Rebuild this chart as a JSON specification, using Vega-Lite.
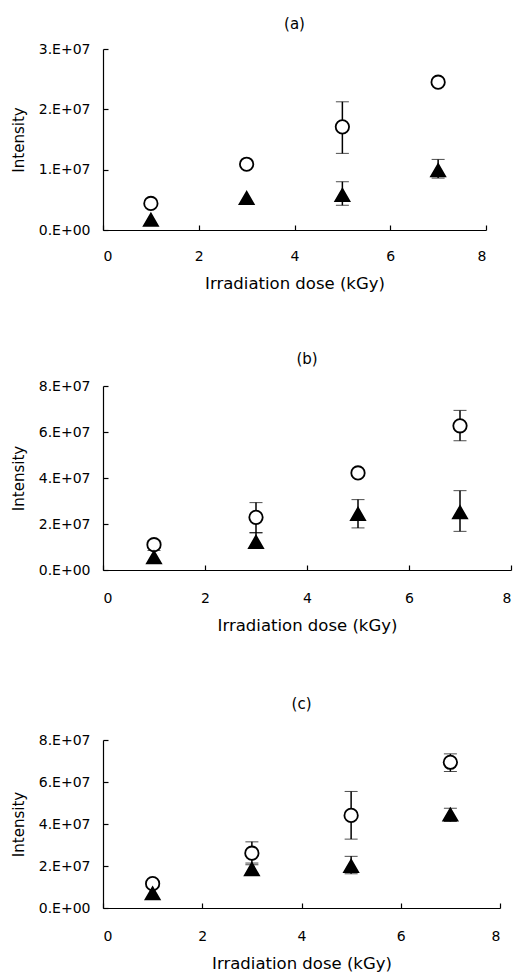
{
  "$schema": "https://vega.github.io/schema/vega-lite/v6.json",
  "padding": {"top": 17, "left": 11, "right": 5, "bottom": 5},
  "background": "white",
  "config": {
    "view": {"stroke": null},
    "font": "DejaVu Sans",
    "axis": {
      "grid": false,
      "domainColor": "black",
      "domainWidth": 1.2,
      "tickColor": "black",
      "tickWidth": 1.2,
      "tickSize": -5,
      "labelColor": "black",
      "labelFont": "DejaVu Sans",
      "labelFontSize": 14,
      "titleColor": "black",
      "titleFont": "DejaVu Sans",
      "titleFontWeight": "normal"
    },
    "title": {"font": "DejaVu Sans", "fontSize": 15, "fontWeight": "normal", "color": "black", "anchor": "middle"}
  },
  "data": {
    "values": [
      {"panel": "a", "series": "open", "dose": 1, "value": 4400000},
      {"panel": "a", "series": "open", "dose": 3, "value": 10900000},
      {"panel": "a", "series": "open", "dose": 5, "value": 17100000, "lo": 12700000, "hi": 21250000},
      {"panel": "a", "series": "open", "dose": 7, "value": 24500000},
      {"panel": "a", "series": "filled", "dose": 1, "value": 1700000},
      {"panel": "a", "series": "filled", "dose": 3, "value": 5300000},
      {"panel": "a", "series": "filled", "dose": 5, "value": 5800000, "lo": 4100000, "hi": 8000000},
      {"panel": "a", "series": "filled", "dose": 7, "value": 9900000, "lo": 8600000, "hi": 11700000},
      {"panel": "b", "series": "open", "dose": 1, "value": 11000000, "lo": 8500000, "hi": 12800000},
      {"panel": "b", "series": "open", "dose": 3, "value": 22900000, "lo": 16100000, "hi": 29300000},
      {"panel": "b", "series": "open", "dose": 5, "value": 42200000},
      {"panel": "b", "series": "open", "dose": 7, "value": 62700000, "lo": 56200000, "hi": 69400000},
      {"panel": "b", "series": "filled", "dose": 1, "value": 5500000},
      {"panel": "b", "series": "filled", "dose": 3, "value": 12200000, "lo": 10000000, "hi": 16300000},
      {"panel": "b", "series": "filled", "dose": 5, "value": 24400000, "lo": 18300000, "hi": 30600000},
      {"panel": "b", "series": "filled", "dose": 7, "value": 25100000, "lo": 16800000, "hi": 34500000},
      {"panel": "c", "series": "open", "dose": 1, "value": 11600000},
      {"panel": "c", "series": "open", "dose": 3, "value": 26100000, "lo": 21400000, "hi": 31500000},
      {"panel": "c", "series": "open", "dose": 5, "value": 44100000, "lo": 32800000, "hi": 55500000},
      {"panel": "c", "series": "open", "dose": 7, "value": 69400000, "lo": 65000000, "hi": 73400000},
      {"panel": "c", "series": "filled", "dose": 1, "value": 7000000},
      {"panel": "c", "series": "filled", "dose": 3, "value": 18500000, "lo": 16500000, "hi": 20600000},
      {"panel": "c", "series": "filled", "dose": 5, "value": 20000000, "lo": 16300000, "hi": 24600000},
      {"panel": "c", "series": "filled", "dose": 7, "value": 44500000, "lo": 41200000, "hi": 47500000}
    ]
  },
  "spacing": 63,
  "vconcat": [
    {
      "spacing": 60,
      "vconcat": [
        {
          "width": 383,
          "height": 181,
          "title": {"text": "(a)", "offset": 10},
          "transform": [{"filter": "datum.panel == 'a'"}],
          "layer": [
            {
              "transform": [{"filter": "isValid(datum.lo)"}],
              "mark": {"type": "errorbar", "ticks": {"size": 13, "strokeWidth": 1.5, "color": "black"}, "rule": {"strokeWidth": 1.5, "color": "black"}},
              "encoding": {
                "x": {"field": "dose", "type": "quantitative", "scale": {"domain": [0, 8]}, "axis": {"title": "Irradiation dose (kGy)", "values": [0, 2, 4, 6, 8], "labelPadding": 24, "titleFontSize": 16.5, "titlePadding": 12}},
                "y": {"field": "lo", "type": "quantitative", "scale": {"domain": [0, 30000000]}, "title": "Intensity"},
                "y2": {"field": "hi"}
              }
            },
            {
              "mark": {"type": "point", "filled": true, "stroke": "black", "strokeWidth": 1.8, "opacity": 1},
              "encoding": {
                "x": {"field": "dose", "type": "quantitative", "scale": {"domain": [0, 8]}},
                "y": {"field": "value", "type": "quantitative", "scale": {"domain": [0, 30000000]}, "axis": {"title": "Intensity", "titleFontSize": 15, "values": [0, 10000000, 20000000, 30000000], "labelExpr": "datum.value == 0 ? '0.E+00' : format(datum.value / 10000000, 'd') + '.E+07'", "labelPadding": 18, "titlePadding": 12}},
                "shape": {"field": "series", "type": "nominal", "scale": {"domain": ["open", "filled"], "range": ["circle", "triangle-up"]}, "legend": null},
                "fill": {"field": "series", "type": "nominal", "scale": {"domain": ["open", "filled"], "range": ["white", "black"]}, "legend": null},
                "size": {"field": "series", "type": "nominal", "scale": {"domain": ["open", "filled"], "range": [180, 200]}, "legend": null}
              }
            }
          ]
        },
        {
          "width": 408,
          "height": 184,
          "title": {"text": "(b)", "offset": 12},
          "transform": [{"filter": "datum.panel == 'b'"}],
          "layer": [
            {
              "transform": [{"filter": "isValid(datum.lo)"}],
              "mark": {"type": "errorbar", "ticks": {"size": 13, "strokeWidth": 1.5, "color": "black"}, "rule": {"strokeWidth": 1.5, "color": "black"}},
              "encoding": {
                "x": {"field": "dose", "type": "quantitative", "scale": {"domain": [0, 8]}, "axis": {"title": "Irradiation dose (kGy)", "values": [0, 2, 4, 6, 8], "labelPadding": 26, "titleFontSize": 16.5, "titlePadding": 12}},
                "y": {"field": "lo", "type": "quantitative", "scale": {"domain": [0, 80000000]}, "title": "Intensity"},
                "y2": {"field": "hi"}
              }
            },
            {
              "mark": {"type": "point", "filled": true, "stroke": "black", "strokeWidth": 1.8, "opacity": 1},
              "encoding": {
                "x": {"field": "dose", "type": "quantitative", "scale": {"domain": [0, 8]}},
                "y": {"field": "value", "type": "quantitative", "scale": {"domain": [0, 80000000]}, "axis": {"title": "Intensity", "titleFontSize": 15, "values": [0, 20000000, 40000000, 60000000, 80000000], "labelExpr": "datum.value == 0 ? '0.E+00' : format(datum.value / 10000000, 'd') + '.E+07'", "labelPadding": 18, "titlePadding": 12}},
                "shape": {"field": "series", "type": "nominal", "scale": {"domain": ["open", "filled"], "range": ["circle", "triangle-up"]}, "legend": null},
                "fill": {"field": "series", "type": "nominal", "scale": {"domain": ["open", "filled"], "range": ["white", "black"]}, "legend": null},
                "size": {"field": "series", "type": "nominal", "scale": {"domain": ["open", "filled"], "range": [180, 200]}, "legend": null}
              }
            }
          ]
        }
      ]
    },
    {
      "width": 397,
      "height": 168,
      "title": {"text": "(c)", "offset": 21},
      "transform": [{"filter": "datum.panel == 'c'"}],
      "layer": [
        {
          "transform": [{"filter": "isValid(datum.lo)"}],
          "mark": {"type": "errorbar", "ticks": {"size": 13, "strokeWidth": 1.5, "color": "black"}, "rule": {"strokeWidth": 1.5, "color": "black"}},
          "encoding": {
            "x": {"field": "dose", "type": "quantitative", "scale": {"domain": [0, 8]}, "axis": {"title": "Irradiation dose (kGy)", "values": [0, 2, 4, 6, 8], "labelPadding": 26, "titleFontSize": 16.5, "titlePadding": 12}},
            "y": {"field": "lo", "type": "quantitative", "scale": {"domain": [0, 80000000]}, "title": "Intensity"},
            "y2": {"field": "hi"}
          }
        },
        {
          "mark": {"type": "point", "filled": true, "stroke": "black", "strokeWidth": 1.8, "opacity": 1},
          "encoding": {
            "x": {"field": "dose", "type": "quantitative", "scale": {"domain": [0, 8]}},
            "y": {"field": "value", "type": "quantitative", "scale": {"domain": [0, 80000000]}, "axis": {"title": "Intensity", "titleFontSize": 15, "values": [0, 20000000, 40000000, 60000000, 80000000], "labelExpr": "datum.value == 0 ? '0.E+00' : format(datum.value / 10000000, 'd') + '.E+07'", "labelPadding": 18, "titlePadding": 12}},
            "shape": {"field": "series", "type": "nominal", "scale": {"domain": ["open", "filled"], "range": ["circle", "triangle-up"]}, "legend": null},
            "fill": {"field": "series", "type": "nominal", "scale": {"domain": ["open", "filled"], "range": ["white", "black"]}, "legend": null},
            "size": {"field": "series", "type": "nominal", "scale": {"domain": ["open", "filled"], "range": [180, 200]}, "legend": null}
          }
        }
      ]
    }
  ]
}
